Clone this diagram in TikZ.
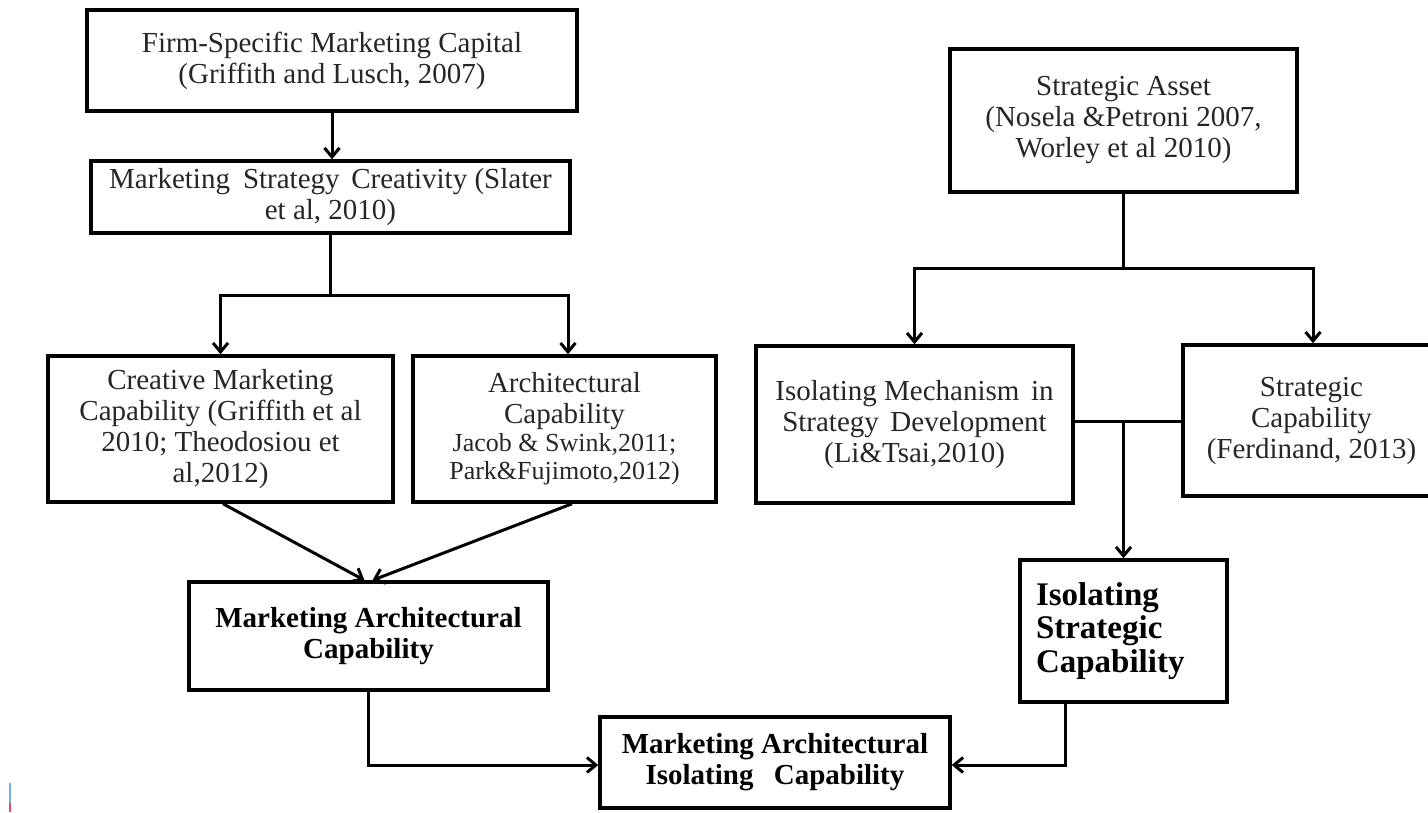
\documentclass[tikz,border=0pt]{standalone}
\usepackage{fontspec}
\setmainfont{Liberation Serif}
\usetikzlibrary{arrows.meta,calc}
\newcommand{\citesmall}{\fontsize{26}{26}\selectfont}
\begin{document}
\begin{tikzpicture}[x=1pt,y=-1pt,
  box/.style={draw, line width=3.5pt, inner sep=0pt, align=center, text=black!85,
    font=\fontsize{29}{31}\selectfont},
  boldbox/.style={box, text=black, font=\fontsize{29}{31}\selectfont\bfseries},
  link/.style={line width=3pt},
  arr/.style={link, -{Straight Barb[length=9pt,width=15pt,line width=3pt]}}
]
\useasboundingbox (0,0) rectangle (1428,812);

% left column
\node[box, minimum width=490pt, minimum height=101pt] (fsmc) at (332,60.5)
  {Firm-Specific Marketing Capital\\(Griffith and Lusch, 2007)};
\node[box, minimum width=479pt, minimum height=72pt] (msc) at (330.5,197)
  {Marketing\hspace{0.45em}Strategy\hspace{0.4em}Creativity (Slater\\et al, 2010)};
\node[box, minimum width=345pt, minimum height=146pt] (cmc) at (220.5,429)
  {Creative Marketing\\Capability (Griffith et al\\2010; Theodosiou et\\al,2012)};
\node[box, minimum width=303pt, minimum height=146pt] (arc) at (564.5,429)
  {Architectural\\Capability\\[-3pt]\citesmall Jacob \& Swink,2011;\\[-3pt]\citesmall Park\&Fujimoto,2012)};
\node[boldbox, minimum width=359pt, minimum height=108pt] (mac) at (368.5,636)
  {Marketing Architectural\\Capability};

% bottom
\node[boldbox, minimum width=350pt, minimum height=91pt] (maic) at (775,762.5)
  {Marketing Architectural\\Isolating\hspace{0.7em}Capability};

% right column
\node[box, minimum width=347pt, minimum height=143pt] (sa) at (1123.5,120.5)
  {Strategic Asset\\(Nosela \&Petroni 2007,\\Worley et al 2010)};
\node[box, minimum width=317pt, minimum height=157pt] (ims) at (914.5,424.5)
  {Isolating Mechanism\hspace{0.4em}in\\Strategy\hspace{0.4em}Development\\(Li\&Tsai,2010)};
\node[box, minimum width=257pt, minimum height=151pt] (sc) at (1311.5,420.5)
  {Strategic\\Capability\\(Ferdinand, 2013)};
\node[draw, line width=3.5pt, minimum height=142pt, text width=175pt, inner xsep=16pt,
  inner ysep=0pt, align=left, text=black, font=\fontsize{33}{33.5}\selectfont\bfseries]
  (isc) at (1123.5,631) {Isolating\\Strategic\\Capability};

% junction points
\coordinate (lj) at (330.5,295);
\coordinate (rj) at (1123.5,268);
\coordinate (mj) at (1123.5,421);

% left connectors
\draw[arr] (fsmc.south) -- (fsmc.south |- msc.north);
\draw[link] (msc.south) -- (lj);
\draw[arr] (lj) -| (cmc.north);
\draw[arr] (lj) -| ($(arc.north)+(3.5,0)$);
\draw[arr] ($(cmc.south)+(2.5,0)$) -- ($(mac.north)+(-4,0)$);
\draw[arr] ($(arc.south)+(7.5,0)$) -- ($(mac.north)+(4,0)$);
\draw[arr] (mac.south) |- ($(maic.west)+(0,2.5)$);

% right connectors
\draw[link] (sa.south) -- (rj);
\draw[arr] (rj) -| (ims.north);
\draw[arr] (rj) -| ($(sc.north)+(1.5,0)$);
\draw[link] (ims.east |- mj) -- (sc.west |- mj);
\draw[arr] (mj) -- (isc.north);
\draw[arr] ($(isc.south)+(-58,0)$) |- ($(maic.east)+(0,2.5)$);

% small mark in the lower left corner
\draw[line width=2.5pt, color={rgb,255:red,120;green,170;blue,225}] (10,783) -- (10,803);
\draw[line width=2.5pt, color={rgb,255:red,220;green,80;blue,80}] (10,803) -- (10,812);
\end{tikzpicture}
\end{document}
